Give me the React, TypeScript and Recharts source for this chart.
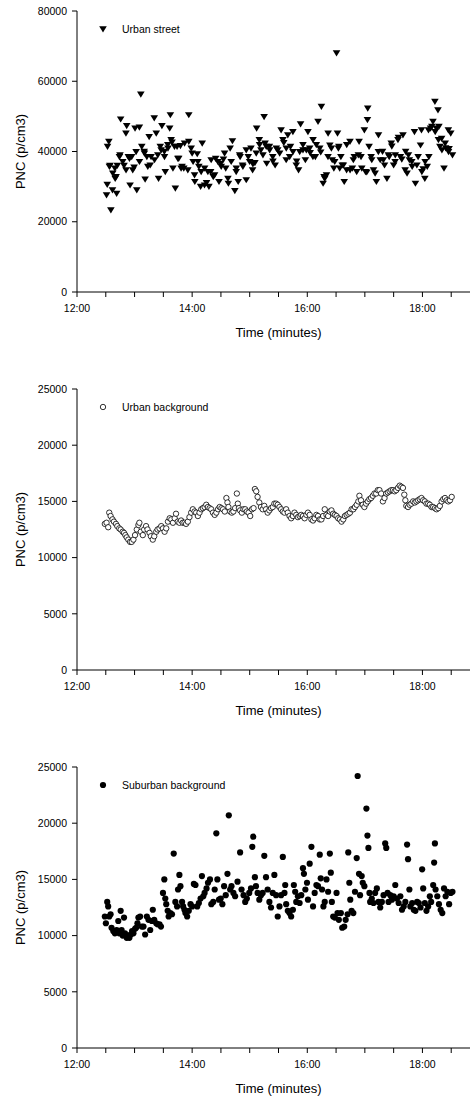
import React from 'react';
import { ScatterChart, Scatter, XAxis, YAxis, Legend } from 'recharts';

// time = minutes after 12:00, values = PNC (p/cm3)
const streetTime = [
  30.8, 31.5, 31.8, 33.2, 33.8, 34.3, 35.3, 37, 37.3, 39.5, 39.8, 40.7, 41.3, 42, 44.2, 44.8, 45.5, 47.7, 49, 51,
  51.1, 51.8, 53.5, 54.7, 55.3, 57, 58.1, 59.5, 60.5, 61.6, 62.3, 65, 65.1, 66.5, 67.5, 70, 70.3, 71, 72.8, 73.8,
  75.2, 76.3, 77.2, 80.5, 80.8, 82.6, 84.2, 85, 86.8, 87.7, 88.5, 91, 91.2, 92, 94.6, 94.8, 96.6, 97.3, 98.1, 99,
  100, 101.6, 102.5, 104.3, 105.1, 106, 107.8, 108.5, 109.5, 111.3, 112.1, 115.5, 116.5, 116.5, 119, 120, 121, 122.5, 122.8, 125.3,
  126, 127, 128.8, 129.4, 130.5, 132.9, 133, 135, 136.4, 137.5, 139.3, 139.8, 142, 143.4, 144.5, 146.8, 148, 149.8, 150.3, 152.6,
  153.8, 155, 157.3, 157.8, 159.6, 160.7, 162, 164.5, 165.9, 166, 168, 169.5, 170, 172.5, 172.9, 176.4, 176.4, 178.5, 179.9, 181.3,
  183, 183.3, 185.4, 186.8, 187.2, 190, 190.3, 191.7, 193.8, 195, 196, 197.2, 197.7, 200.5, 200.8, 204, 204.2, 206.5, 207.7, 209.2,
  211.2, 212.7, 214.6, 215.5, 218, 218.1, 219.7, 221.6, 222.5, 225, 225.1, 228.5, 228.9, 230.9, 232.1, 233, 235.5, 235.5, 238, 239,
  240.7, 242.5, 243, 245.9, 246, 248.4, 249.4, 251.2, 253, 254, 254.7, 256.5, 257.5, 258.2, 260, 261.6, 261.7, 263.5, 265.1, 266,
  267.7, 268.6, 270.5, 271.5, 272.4, 272.9, 273.8, 275, 276.4, 277.6, 278.5, 281, 281.1, 284.5, 284.6, 287, 288, 289, 291.5, 293.2,
  294, 296, 296.8, 299.5, 300.7, 302, 302.7, 303, 304.4, 306.5, 307.2, 309, 310.7, 312, 314.1, 314.2, 316, 318.4, 319.3, 320.5,
  323, 324.5, 325.4, 327.5, 328.1, 330, 331.5, 331.7, 334.5, 335, 337, 338.5, 339.7, 342, 342.5, 344, 345.4, 346.4, 348.9, 349.3,
  351.7, 352.7, 354.2, 355.5, 358, 359, 359.4, 360.8, 362.5, 362.8, 365, 366.3, 366.7, 368.5, 369.8, 371, 373, 373.3, 374.5, 376.2,
  376.7, 377.2, 378.2, 380, 380.3, 382.5, 383.7, 384.2, 387, 387.2, 387.8, 389.5, 391.3,
];
const streetPnc = [
  27600, 30600, 41400, 42800, 35700, 36000, 23300, 29000, 33800, 35200, 32300, 32800, 28000, 36000, 38500, 39000, 49200, 37100, 36000, 45200,
  34700, 47300, 38500, 38000, 30400, 38500, 34700, 35500, 46600, 39900, 29000, 46900, 37100, 56300, 41400, 40000, 39500, 32100, 38500, 35700,
  44200, 36100, 38500, 49500, 37600, 45200, 39000, 32300, 41400, 40400, 47300, 40000, 38500, 34200, 41900, 40900, 46600, 50400, 43300, 42600,
  35200, 41400, 29500, 41400, 38000, 38000, 41600, 35200, 35700, 35200, 42300, 34700, 50400, 42800, 40900, 39500, 37100, 33300, 31400, 39300,
  37100, 35700, 30000, 34200, 42300, 30400, 35200, 31100, 34200, 30000, 34200, 37600, 32800, 33300, 38000, 37100, 31400, 36600, 35700, 37800,
  39500, 35200, 32300, 30900, 40900, 37100, 43000, 28800, 34200, 35200, 31400, 39000, 38500, 36100, 35700, 31900, 40400, 38500, 37100, 40900,
  34700, 36400, 36800, 39500, 46600, 43300, 41900, 40400, 39000, 49900, 42300, 41400, 36600, 41400, 40400, 38500, 37200, 36100, 40900, 40400,
  39500, 46100, 43300, 42500, 37600, 40900, 44700, 38500, 41400, 45600, 39900, 36100, 37200, 34700, 39900, 47800, 40400, 41900, 37600, 40400,
  45600, 40900, 39600, 38500, 43300, 38500, 41900, 48500, 40900, 39800, 52800, 30900, 32800, 32300, 33300, 38500, 45200, 41800, 40900, 37600,
  35200, 37100, 68000, 45200, 40900, 41400, 35200, 38500, 36100, 36100, 31400, 34700, 41900, 42800, 34700, 35200, 37600, 38500, 34200, 39000,
  42800, 38500, 35200, 46100, 34200, 34100, 49000, 52300, 41400, 38500, 37600, 34700, 33800, 31400, 39900, 44700, 37600, 40000, 37600, 36100,
  32300, 39000, 38500, 42300, 41500, 36100, 37100, 39000, 43300, 44000, 38500, 37800, 44700, 34700, 40000, 33800, 39000, 37600, 37100, 35700,
  45600, 30900, 36100, 38500, 41800, 46100, 34200, 35000, 32300, 37100, 35700, 46100, 38500, 46600, 47100, 48500, 54200, 45600, 46600, 51800,
  43300, 47100, 41400, 43700, 40400, 35200, 42300, 41000, 46100, 39900, 40800, 45200, 39000,
];

const backgroundTime = [
  29, 30.8, 32.5, 33.6, 35, 37, 38.5, 40.6, 42, 44, 45.5, 47.6, 49, 50.4, 51.8, 53.5, 55.3, 57, 58.8, 60.5,
  62.3, 64, 65, 66.5, 68.6, 70, 72, 73.5, 75.6, 77, 79, 80.5, 82.6, 84, 86, 87.8, 89.6, 91.3, 93, 94.8,
  96.6, 98.3, 100, 101.8, 103.2, 105, 106.7, 108.5, 110.2, 112, 113.7, 115.5, 117.2, 119, 120.7, 122.5, 124.2, 126, 127.7, 129.5,
  131.2, 133, 134.7, 136.4, 138.2, 139.9, 141.7, 143.5, 145.2, 147, 148.7, 150.5, 152.2, 154, 155.7, 156.8, 157.8, 159.6, 161.3, 163,
  164.8, 166.6, 167.6, 168.7, 170, 171.8, 173.5, 175.3, 177, 178.8, 180.5, 182.3, 184, 185.4, 186.8, 188.2, 190, 191.7, 193.5, 195.2,
  197, 198.7, 200.5, 202.2, 204, 205.7, 207.5, 209.2, 211, 212.7, 214.5, 216.2, 218, 219.7, 221.5, 223.2, 225, 226.7, 228.5, 230.2,
  232, 233.7, 235.5, 237.2, 239, 240.7, 242.5, 244.3, 246, 247.7, 249.5, 251.2, 253, 254.7, 256.5, 258.2, 260, 261.7, 263.5, 265.2,
  267, 268.7, 270.5, 272.2, 274, 275.7, 277.5, 279.2, 281, 282.8, 284.5, 286.2, 288, 289.7, 291.5, 293.2, 294.3, 296, 297.8, 299.5,
  301.3, 303, 304.7, 306.5, 308.3, 310, 311.8, 313.5, 315.2, 317, 318.8, 320.5, 322.3, 324, 325.8, 327.5, 329.3, 331, 332.7, 334.5,
  336.3, 338, 339.7, 341.1, 342.2, 343.2, 345, 346.7, 348.5, 350.3, 352, 353.7, 355.5, 357.2, 359, 360.7, 362.5, 364.2, 366, 367.7,
  369.5, 371.2, 373, 374.7, 376.5, 378.2, 380, 381.7, 383.5, 385.2, 387, 388.7, 390.5,
];
const backgroundPnc = [
  13000, 13100, 12700, 14000, 13700, 13400, 13200, 13000, 12800, 12600, 12500, 12300, 12200, 12000, 11800, 11600, 11400, 11400, 11600, 12000,
  12500, 12900, 13100, 12300, 12000, 12500, 12800, 12500, 12200, 11900, 11600, 11900, 12300, 12500, 12600, 12800, 12600, 12300, 12600, 13200,
  13500, 13400, 13100, 13500, 13900, 13200, 13100, 13300, 13100, 13100, 13000, 13200, 13600, 14000, 14300, 14100, 14000, 13700, 14000, 14300,
  14400, 14500, 14700, 14500, 14400, 14300, 14000, 13800, 14000, 14300, 14500, 14400, 14300, 14100, 15300, 14900, 14500, 14100, 14000, 14100,
  14400, 15700, 14800, 14400, 14200, 14000, 14300, 14300, 14100, 14000, 13700, 14300, 14400, 16100, 15900, 15400, 14900, 14500, 14300, 14600,
  14300, 14000, 14200, 14400, 14500, 14800, 14800, 14700, 14500, 14300, 14100, 14000, 14300, 14000, 13700, 13500, 13700, 14000, 13800, 13600,
  13700, 13800, 13700, 13500, 13800, 14000, 13800, 13400, 13300, 13500, 13800, 13700, 13400, 13400, 13700, 14300, 13800, 13700, 14100, 14200,
  13900, 13800, 13700, 13500, 13400, 13200, 13400, 13700, 13800, 13900, 14000, 14300, 14300, 14500, 14700, 15000, 15500, 15100, 14700, 14500,
  14800, 15000, 15200, 15300, 15500, 15700, 15700, 16000, 16000, 15700, 15000, 15300, 15700, 15800, 15900, 16000, 16000, 15900, 16000, 16200,
  16400, 16300, 16200, 15600, 15100, 14600, 14500, 14700, 14800, 15000, 14900, 15000, 15100, 15200, 15300, 15100, 15000, 14800, 14800, 14700,
  14500, 14500, 14400, 14300, 14400, 14600, 15000, 15200, 15300, 15100, 15000, 15100, 15400,
];

const suburbanTime = [
  29, 30.1, 31.5, 32.5, 33.6, 35, 36, 37.8, 39.5, 41.3, 43, 44, 45.5, 46.5, 47.6, 49, 50, 51.8, 53.5, 54.6,
  56, 57.4, 58.8, 60.5, 61.6, 63, 64, 65.8, 67.5, 69.3, 71, 72.8, 74.5, 76.3, 78, 79, 80.5, 82.6, 84, 86,
  87.5, 89.6, 91, 92, 93, 94.5, 95.5, 97.3, 99, 100.8, 102.5, 104.3, 105.3, 106.7, 107.8, 109.5, 110.6, 112, 113, 114.8,
  116.5, 118.3, 120, 121.8, 123.5, 125.3, 127, 128.8, 130.2, 131.6, 133, 135, 136.5, 138.6, 140, 142, 143.5, 145.2, 146.3, 148,
  149.8, 151.5, 153.3, 155, 156.8, 158.2, 159.6, 161, 163, 164.8, 167.3, 170, 171.5, 173.6, 175.3, 177, 179.5, 181.3, 182.7, 183.7,
  185.4, 186.5, 188.2, 190, 191.7, 193.5, 195.2, 197, 198.7, 200.5, 202.2, 204, 205.7, 207.5, 209.2, 211, 212.7, 214.5, 216.2, 217,
  218, 219.7, 221.5, 223.2, 225, 226, 227.4, 228.5, 230.2, 232, 233.7, 235.5, 236.5, 238, 239.7, 240.7, 242.5, 244.3, 246, 247.7,
  249.5, 251.2, 253, 254, 255.4, 256.8, 258.2, 260, 261.7, 263.5, 264.5, 265.6, 267, 268.7, 270.5, 271.5, 272.9, 275, 276.4, 278.5,
  280, 282, 282.7, 283.8, 284.8, 286.2, 288, 289.7, 291.5, 292.5, 293.9, 295, 296.7, 297.8, 299.5, 301.6, 302.7, 303.7, 304.8, 305.5,
  307.2, 309, 310.7, 312.5, 314.2, 316, 317.7, 319.5, 321.2, 322.3, 323.7, 324.7, 326.5, 328.2, 330, 331.7, 333.5, 335.2, 337, 338.7,
  340.5, 342.2, 344, 345, 346.4, 347.4, 349.3, 351, 352.7, 354.5, 356.2, 358, 359.7, 360.8, 362.5, 364.2, 366, 367.7, 369.1, 371.2,
  372.2, 373, 373.7, 375.5, 377.2, 379, 380.7, 382.5, 384.2, 386, 387.8, 389.5, 391.3,
];
const suburbanPnc = [
  11700, 11100, 13000, 12600, 11700, 11900, 10700, 10400, 10200, 10500, 11300, 10200, 12200, 10500, 10000, 11600, 10200, 9800, 10000, 9800,
  10100, 10400, 10200, 10600, 10700, 11100, 11600, 11700, 10800, 10800, 10100, 11700, 11400, 10500, 11300, 12300, 11400, 11100, 11000, 11000,
  10800, 13800, 15000, 13300, 12800, 12200, 11700, 12000, 11900, 17300, 13000, 12600, 14100, 15400, 14400, 13000, 12600, 12300, 12000, 11700,
  12200, 12800, 12600, 14600, 14500, 12600, 12900, 13300, 15300, 13500, 13800, 14200, 14700, 15000, 12800, 13000, 14100, 19100, 15000, 13200,
  13300, 12800, 14400, 13600, 15500, 20700, 14100, 14400, 13800, 13500, 14800, 17400, 14100, 13600, 13000, 13300, 13800, 14200, 17900, 18800,
  15200, 14400, 13800, 13200, 13600, 13800, 17100, 15200, 14100, 13000, 12500, 13800, 15400, 13600, 11700, 12600, 13600, 17000, 13800, 14500,
  12800, 12200, 12000, 11700, 12300, 14500, 13900, 13000, 13500, 12900, 13600, 16000, 15500, 14100, 14700, 13200, 16400, 17900, 12600, 13800,
  14500, 14400, 17200, 15100, 14100, 12600, 13000, 15000, 13900, 17300, 15600, 13000, 11700, 11600, 13800, 12000, 11400, 12000, 10700, 10800,
  11400, 11900, 17400, 14700, 13200, 12200, 12000, 13900, 16900, 24200, 15500, 13600, 15300, 14700, 14400, 21300, 18900, 17800, 13800, 13000,
  13300, 12900, 13800, 14200, 13000, 12500, 13000, 13600, 18200, 17800, 13800, 13000, 13600, 13200, 13500, 14500, 13300, 12900, 13500, 12300,
  12600, 13000, 18100, 16800, 14100, 12600, 12900, 12300, 12200, 13000, 12900, 12500, 15900, 14200, 12900, 12200, 12600, 13500, 13000, 14500,
  16500, 18200, 14100, 13500, 12800, 12300, 12000, 14200, 13500, 13900, 12800, 13800, 13900,
];

const hourTicks = [0, 30, 60, 90, 120, 150, 180, 210, 240, 270, 300, 330, 360, 390, 420];
const bigTicks = [0, 20000, 40000, 60000, 80000];
const smallTicks = [0, 5000, 10000, 15000, 20000, 25000];

const FONT = '"Liberation Sans", Arial, sans-serif';

const toRows = (time: number[], pnc: number[]) => time.map((t, i) => ({ t, v: pnc[i] }));

const fmtHour = (t: number) => (t % 120 === 0 ? `${12 + t / 60}:00` : '');

const DownTriangle = (props: any) => {
  const { cx, cy } = props;
  return <path d={`M${cx - 3.8},${cy - 2.8} L${cx + 3.8},${cy - 2.8} L${cx},${cy + 3.4} Z`} fill="#000" />;
};
const OpenCircle = (props: any) => (
  <circle cx={props.cx} cy={props.cy} r={2.7} fill="#fff" stroke="#000" strokeWidth={0.8} />
);
const DotCircle = (props: any) => <circle cx={props.cx} cy={props.cy} r={3.1} fill="#000" />;

const YLabel = (props: any) => {
  const vb = props.viewBox || { y: 11, height: 281 };
  const cy = vb.y + vb.height / 2;
  return (
    <text x={20} y={cy} transform={`rotate(-90 20 ${cy})`} textAnchor="middle" dominantBaseline="central"
      fontSize={13} fontFamily={FONT} fill="#000">
      PNC (p/cm3)
    </text>
  );
};

interface PanelProps {
  top: number;
  name: string;
  rows: { t: number; v: number }[];
  yMax: number;
  yTicks: number[];
  Shape: (p: any) => React.ReactElement;
}

function Panel({ top, name, rows, yMax, yTicks, Shape }: PanelProps) {
  const tick = { fontSize: 10.5, fontFamily: FONT, fill: '#000' };
  return (
    <div style={{ position: 'absolute', left: 0, top, width: 480, height: 378 }}>
      <ScatterChart width={480} height={378} margin={{ top: 11, right: 0, bottom: 40, left: 0 }}>
        <XAxis xAxisId="top" orientation="top" type="number" dataKey="t" domain={[0, 420]} height={0}
          tick={false} tickLine={false} axisLine={{ stroke: '#000' }} />
        <XAxis xAxisId="b" type="number" dataKey="t" domain={[0, 420]} ticks={hourTicks} interval={0}
          tickFormatter={fmtHour} tick={tick} tickSize={5} tickMargin={8} height={46}
          axisLine={{ stroke: '#000' }} tickLine={{ stroke: '#000' }}
          label={{ value: 'Time (minutes)', position: 'insideBottom', offset: 1, fontSize: 13, fontFamily: FONT, fill: '#000' }} />
        <YAxis type="number" dataKey="v" domain={[0, yMax]} ticks={yTicks} interval={0} width={77}
          tick={tick} tickSize={5} tickMargin={5} axisLine={{ stroke: '#000' }} tickLine={{ stroke: '#000' }}
          label={<YLabel />} />
        <Legend layout="horizontal" verticalAlign="middle" align="center"
          wrapperStyle={{ top: 23, left: 97, width: 'auto' }}
          content={() => (
            <div style={{ display: 'flex', alignItems: 'center', fontFamily: FONT, fontSize: 10.5, color: '#000' }}>
              <svg width={12} height={12}>
                <Shape cx={6} cy={6} />
              </svg>
              <span style={{ marginLeft: 13, lineHeight: '12px' }}>{name}</span>
            </div>
          )} />
        <Scatter xAxisId="b" name={name} data={rows} shape={Shape} isAnimationActive={false} />
      </ScatterChart>
    </div>
  );
}

export default function App() {
  return (
    <div style={{ position: 'absolute', left: 0, top: 0, width: 470, height: 1099, overflow: 'hidden', background: '#fff' }}>
      <Panel top={0} name="Urban street" rows={toRows(streetTime, streetPnc)} yMax={80000} yTicks={bigTicks} Shape={DownTriangle} />
      <Panel top={378} name="Urban background" rows={toRows(backgroundTime, backgroundPnc)} yMax={25000} yTicks={smallTicks} Shape={OpenCircle} />
      <Panel top={756} name="Suburban background" rows={toRows(suburbanTime, suburbanPnc)} yMax={25000} yTicks={smallTicks} Shape={DotCircle} />
    </div>
  );
}
